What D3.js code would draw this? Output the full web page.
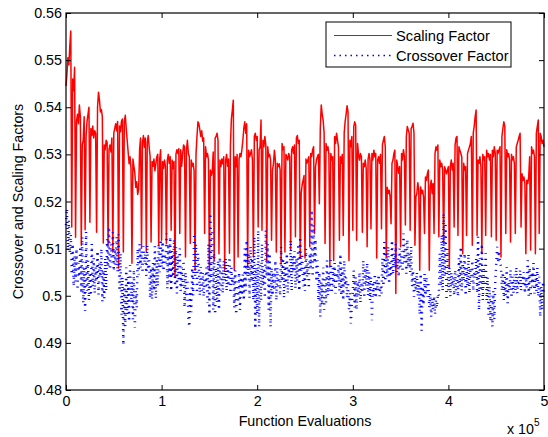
<!DOCTYPE html>
<html>
<head>
<meta charset="utf-8">
<script src="https://cdn.jsdelivr.net/npm/d3@7"></script>
<style>
  body { margin: 0; background: #fff; }
  svg text { font-family: "Liberation Sans", Arial, Helvetica, sans-serif; fill: #000; }
</style>
</head>
<body>
<div class="container"></div>
<script>
// function evaluations between two samples
var step = 1000;

// scaling factor, one sample every 1000 evaluations
var scaling = [
  .5445,.5470,.5505,.5490,.5530,.5562,.5146,.5460,.5435,.5485,
  .5124,.5370,.5385,.5365,.5405,.5380,.5107,.5320,.5330,.5380,
  .5140,.5340,.5370,.5385,.5400,.5156,.5355,.5340,.5360,.5335,
  .5350,.5345,.5135,.5400,.5432,.5415,.5390,.5395,.5380,.5112,
  .5320,.5310,.5330,.5325,.5107,.5310,.5320,.5305,.5335,.5093,
  .5345,.5355,.5365,.5350,.5370,.5059,.5360,.5348,.5370,.5375,
  .5093,.5370,.5383,.5355,.5330,.5305,.5280,.5295,.5270,.5069,
  .5290,.5275,.5260,.5230,.5242,.5215,.5225,.5310,.5335,.5101,
  .5325,.5340,.5315,.5335,.5094,.5325,.5340,.5315,.5295,.5114,
  .5285,.5275,.5290,.5265,.5280,.5295,.5300,.5107,.5290,.5310,
  .5118,.5285,.5270,.5288,.5275,.5111,.5288,.5300,.5281,.5295,
  .5139,.5288,.5270,.5285,.5040,.5300,.5310,.5302,.5312,.5132,
  .5310,.5275,.5300,.5320,.5316,.5082,.5309,.5330,.5302,.5295,
  .5111,.5288,.5275,.5281,.5265,.5054,.5300,.5338,.5369,.5365,
  .5352,.5338,.5350,.5328,.5335,.5132,.5316,.5295,.5302,.5288,
  .5054,.5267,.5255,.5265,.5305,.5075,.5335,.5338,.5345,.5330,
  .5089,.5288,.5274,.5290,.5280,.5295,.5054,.5288,.5300,.5275,
  .5290,.5090,.5320,.5375,.5394,.5415,.5054,.5295,.5274,.5300,
  .5082,.5290,.5302,.5295,.5310,.5330,.5355,.5369,.5345,.5365,
  .5061,.5309,.5295,.5302,.5310,.5288,.5082,.5338,.5345,.5330,
  .5338,.5146,.5310,.5316,.5373,.5139,.5330,.5316,.5338,.5320,
  .5075,.5316,.5295,.5300,.5288,.5118,.5267,.5280,.5309,.5288,
  .5093,.5281,.5274,.5280,.5267,.5068,.5323,.5310,.5316,.5093,
  .5300,.5295,.5288,.5302,.5295,.5097,.5309,.5316,.5302,.5320,
  .5125,.5335,.5340,.5323,.5330,.5080,.5217,.5235,.5245,.5255,
  .5080,.5290,.5281,.5288,.5295,.5104,.5302,.5295,.5310,.5316,
  .5132,.5274,.5288,.5295,.5300,.5195,.5355,.5405,.5385,.5372,
  .5345,.5111,.5323,.5309,.5316,.5300,.5061,.5302,.5288,.5295,
  .5075,.5338,.5323,.5345,.5330,.5316,.5118,.5295,.5281,.5300,
  .5128,.5345,.5370,.5385,.5403,.5390,.5075,.5330,.5316,.5338,
  .5139,.5359,.5369,.5362,.5118,.5323,.5300,.5288,.5302,.5295,
  .5135,.5281,.5274,.5288,.5270,.5104,.5290,.5302,.5288,.5142,
  .5302,.5288,.5309,.5295,.5302,.5080,.5288,.5295,.5281,.5300,
  .5142,.5320,.5330,.5338,.5316,.5082,.5230,.5217,.5224,.5210,
  .5153,.5281,.5288,.5302,.5309,.5005,.5288,.5274,.5260,.5274,
  .5104,.5302,.5288,.5310,.5295,.5150,.5338,.5359,.5352,.5345,
  .5139,.5355,.5359,.5366,.5345,.5107,.5210,.5217,.5240,.5224,
  .5054,.5231,.5217,.5224,.5210,.5132,.5252,.5245,.5259,.5267,
  .5054,.5231,.5245,.5217,.5238,.5132,.5302,.5316,.5309,.5320,
  .5125,.5288,.5274,.5281,.5267,.5111,.5274,.5267,.5259,.5267,
  .5274,.5058,.5274,.5288,.5267,.5281,.5146,.5320,.5335,.5338,
  .5128,.5316,.5309,.5302,.5295,.5089,.5281,.5267,.5274,.5128,
  .5302,.5309,.5316,.5323,.5338,.5107,.5345,.5360,.5380,.5394,
  .5128,.5288,.5281,.5295,.5274,.5089,.5300,.5288,.5295,.5128,
  .5309,.5295,.5302,.5288,.5300,.5125,.5309,.5295,.5316,.5302,
  .5118,.5309,.5302,.5310,.5316,.5082,.5338,.5355,.5369,.5360,
  .5132,.5310,.5295,.5302,.5288,.5114,.5300,.5288,.5295,.5281,
  .5132,.5316,.5323,.5330,.5338,.5345,.5146,.5259,.5245,.5252,
  .5238,.5089,.5245,.5238,.5252,.5295,.5097,.5316,.5302,.5309,
  .5295,.5089,.5345,.5359,.5373,.5132,.5345,.5338,.5323,.5330,
  .5316
];

// crossover factor, same sampling
var crossover = [
  .5150,.5185,.5095,.5160,.5088,.5130,.5045,.5110,.5020,.5085,
  .5030,.5100,.5012,.5070,.5040,.5105,.5005,.5125,.4985,.5060,
  .4968,.5136,.5010,.5075,.4990,.5050,.5000,.5110,.5020,.5080,
  .5005,.5060,.5030,.5095,.5002,.5070,.5040,.5100,.4988,.5055,
  .4995,.5080,.5010,.5120,.5060,.5146,.5055,.5110,.5070,.5135,
  .5052,.5100,.5065,.5125,.5050,.5130,.5010,.5090,.4960,.5040,
  .4895,.5020,.4935,.5060,.4960,.5040,.4945,.5065,.4985,.5030,
  .4950,.5055,.4932,.5010,.4975,.5100,.5045,.5110,.5060,.5095,
  .5048,.5105,.5070,.5090,.5042,.5108,.5055,.5075,.4995,.5060,
  .4992,.5070,.5010,.5105,.4994,.5080,.5020,.5110,.5050,.5120,
  .5060,.5115,.5052,.5090,.5070,.5132,.5015,.5110,.5030,.5125,
  .5010,.5095,.5040,.5120,.5020,.5104,.5005,.5085,.5030,.5100,
  .5010,.5060,.5020,.5075,.4975,.5050,.4990,.5035,.4950,.4934,
  .5010,.4965,.5060,.5000,.5132,.5040,.5110,.5005,.5090,.5060,
  .5000,.5061,.5010,.5050,.4998,.5045,.5020,.5060,.4985,.5110,
  .4960,.5175,.5030,.5140,.4970,.5090,.4960,.5060,.4985,.5075,
  .4970,.5082,.5010,.5060,.5005,.5075,.5030,.5080,.5010,.5065,
  .5020,.5082,.5005,.5060,.5025,.5040,.4975,.5054,.4960,.5030,
  .4985,.5050,.4970,.5040,.5000,.5045,.4990,.5100,.5010,.5118,
  .5040,.5090,.4995,.5105,.5030,.5080,.4990,.5125,.4930,.5060,
  .4960,.5139,.4934,.5070,.4990,.5110,.5020,.5060,.4995,.5139,
  .5040,.5110,.4970,.5090,.4934,.5060,.5000,.5050,.5010,.5075,
  .4990,.5060,.5020,.5040,.5000,.5104,.5030,.5080,.4995,.5070,
  .5020,.5090,.5005,.5060,.5040,.5118,.5010,.5085,.5050,.5095,
  .5015,.5080,.5030,.5110,.5010,.5125,.5050,.5090,.5020,.5060,
  .5010,.5100,.5040,.5070,.5015,.5090,.5060,.5182,.5040,.5150,
  .5070,.5120,.5030,.5075,.4990,.5050,.4955,.5030,.4980,.5060,
  .4970,.5040,.4985,.5075,.5000,.5050,.5010,.5075,.5005,.5060,
  .5020,.5070,.5005,.5050,.5030,.5065,.5010,.5089,.5000,.5060,
  .4990,.5075,.5020,.5040,.4995,.5030,.4970,.5005,.4941,.4980,
  .5010,.5054,.4975,.5040,.4970,.5030,.5000,.5050,.4985,.5025,
  .5010,.5075,.4995,.5060,.5020,.5070,.5000,.5050,.4990,.5040,
  .4948,.5030,.5000,.5047,.4995,.5035,.5010,.5045,.4999,.5020,
  .5005,.5080,.5020,.5114,.5030,.5090,.5040,.5105,.5025,.5070,
  .5040,.5118,.5045,.5090,.5060,.5110,.5050,.5080,.5040,.5100,
  .5060,.5095,.5050,.5132,.5070,.5110,.5047,.5120,.5060,.5090,
  .5050,.5105,.5020,.5054,.4998,.5040,.5010,.5050,.4999,.5030,
  .4960,.5047,.4926,.5020,.4980,.5047,.5000,.5040,.4998,.5030,
  .4975,.5005,.4955,.4995,.4970,.5000,.4960,.4990,.4975,.5005,
  .5000,.5090,.5020,.5130,.5010,.5175,.5040,.5150,.4990,.5100,
  .5010,.5061,.4998,.5050,.5020,.5040,.5000,.5055,.5010,.5045,
  .4998,.5080,.5020,.5104,.5010,.5070,.5030,.5090,.5000,.5060,
  .5020,.5089,.5005,.5060,.5030,.5075,.5010,.5050,.5040,.5080,
  .5005,.5125,.4969,.5080,.5010,.5110,.4990,.5060,.5020,.5090,
  .4990,.5040,.4960,.5020,.4945,.5000,.4934,.5010,.4950,.5030,
  .5068,.5104,.5070,.5095,.5075,.5061,.5010,.5050,.4990,.5040,
  .5000,.5061,.4984,.5030,.5010,.5055,.4995,.5040,.5005,.5045,
  .5010,.5061,.5005,.5040,.5020,.5055,.5010,.5045,.5025,.5050,
  .5005,.5040,.5015,.5075,.5000,.5060,.4998,.5050,.5020,.5070,
  .5005,.5045,.5010,.5060,.4998,.5040,.4955,.5020,.4970,.5030,
  .5000
];

var x_ticks = [0, 1, 2, 3, 4, 5];             // x 10^5
var y_ticks = [0.48, 0.49, 0.50, 0.51, 0.52, 0.53, 0.54, 0.55, 0.56];
var y_tick_labels = ["0.48", "0.49", "0.5", "0.51", "0.52", "0.53", "0.54", "0.55", "0.56"];
var series_names = ["Scaling Factor", "Crossover Factor"];

var margin = {top: 13, right: 4, bottom: 47, left: 66},
    width = 548 - margin.left - margin.right,
    height = 437 - margin.top - margin.bottom;

var x_scale = d3.scaleLinear().domain([0, 5e5]).range([0, width]);
var y_scale = d3.scaleLinear().domain([0.48, 0.56]).range([height, 0]);

var svg = d3.select("div.container").append("svg")
    .attr("width", width + margin.left + margin.right)
    .attr("height", height + margin.top + margin.bottom);

var g = svg.append("g")
    .attr("transform", "translate(" + margin.left + "," + margin.top + ")");

var line = d3.line()
    .x(function(d, i) { return x_scale(i * step); })
    .y(function(d) { return y_scale(d); });

g.append("path")
    .datum(scaling)
    .attr("fill", "none")
    .attr("stroke", "#ff0000")
    .attr("stroke-width", 1.5)
    .attr("stroke-linejoin", "round")
    .attr("d", line);

g.append("path")
    .datum(crossover)
    .attr("fill", "none")
    .attr("stroke", "#0000ff")
    .attr("stroke-width", 2.5)
    .attr("stroke-dasharray", "1,5")
    .attr("d", line);

// axes, ticks pointing inward
var x_axis = d3.axisBottom(x_scale)
    .tickValues(x_ticks.map(function(d) { return d * 1e5; }))
    .tickFormat(function(d) { return d / 1e5; })
    .tickSizeInner(-5).tickSizeOuter(0).tickPadding(6);

var y_axis = d3.axisLeft(y_scale)
    .tickValues(y_ticks)
    .tickFormat(function(d, i) { return y_tick_labels[i]; })
    .tickSizeInner(-5).tickSizeOuter(0).tickPadding(4);

g.append("g")
    .attr("transform", "translate(0," + height + ")")
    .call(x_axis);

g.append("g").call(y_axis);

g.append("g")
    .call(d3.axisTop(x_scale).tickValues(x_ticks.map(function(d) { return d * 1e5; }))
      .tickFormat("").tickSizeInner(-5).tickSizeOuter(0));

g.append("g")
    .attr("transform", "translate(" + width + ",0)")
    .call(d3.axisRight(y_scale).tickValues(y_ticks)
      .tickFormat("").tickSizeInner(-5).tickSizeOuter(0));

g.selectAll(".domain").remove();
g.selectAll(".tick line").attr("stroke", "#000");
g.selectAll(".tick text").style("font-size", "14.3px").attr("fill", "#000");

g.append("rect")
    .attr("width", width)
    .attr("height", height)
    .attr("fill", "none")
    .attr("stroke", "#000")
    .attr("stroke-width", 1.2);

// labels
svg.append("text")
    .attr("x", margin.left + width / 2)
    .attr("y", 426)
    .attr("text-anchor", "middle")
    .style("font-size", "14.3px")
    .text("Function Evaluations");

svg.append("text")
    .attr("transform", "translate(23," + (margin.top + height / 2) + ") rotate(-90)")
    .attr("text-anchor", "middle")
    .style("font-size", "14.3px")
    .text("Crossover and Scaling Factors");

var exp = svg.append("text")
    .attr("x", 507)
    .attr("y", 434)
    .style("font-size", "14.3px");
exp.append("tspan").text("x 10");
exp.append("tspan").attr("dy", -8).style("font-size", "10px").text("5");

// legend
var legend = svg.append("g").attr("transform", "translate(326,22)");

legend.append("rect")
    .attr("width", 185)
    .attr("height", 45)
    .attr("fill", "#fff")
    .attr("stroke", "#000")
    .attr("stroke-width", 1);

legend.append("line")
    .attr("x1", 8).attr("x2", 66)
    .attr("y1", 13.5).attr("y2", 13.5)
    .attr("stroke", "#ff0000");

legend.append("line")
    .attr("x1", 8).attr("x2", 66)
    .attr("y1", 33.5).attr("y2", 33.5)
    .attr("stroke", "#0000ff")
    .attr("stroke-width", 1.5)
    .attr("stroke-dasharray", "1.5,4");

legend.selectAll("text.entry")
    .data(series_names)
    .enter().append("text")
    .attr("class", "entry")
    .attr("x", 70)
    .attr("y", function(d, i) { return 18.5 + i * 20.5; })
    .style("font-size", "14.7px")
    .text(function(d) { return d; });
</script>
</body>
</html>
